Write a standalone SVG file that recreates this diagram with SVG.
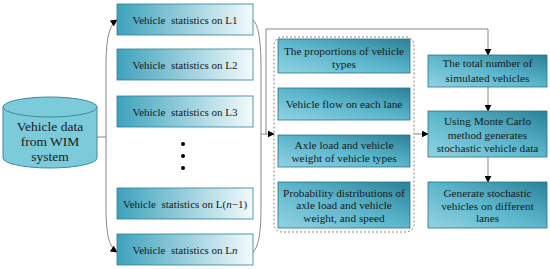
<svg xmlns="http://www.w3.org/2000/svg" width="550" height="269" viewBox="0 0 550 269">
<defs>
<linearGradient id="gL" x1="0" y1="0" x2="1" y2="0">
<stop offset="0" stop-color="#3ea2bc"/><stop offset="1" stop-color="#f3fafc"/>
</linearGradient>
<linearGradient id="gR" x1="0" y1="1" x2="1" y2="0">
<stop offset="0" stop-color="#92d3e2"/><stop offset="0.5" stop-color="#5bb6cc"/><stop offset="1" stop-color="#2a8198"/>
</linearGradient>
<marker id="ah" viewBox="0 0 10 10" refX="9" refY="5" markerWidth="7" markerHeight="7" markerUnits="userSpaceOnUse" orient="auto">
<path d="M0,0 L10,5 L0,10 Z" fill="#000"/>
</marker>
</defs>
<style>
text{fill:#1a1a1a;text-anchor:middle;font-size:11.3px}
.sm{font-size:11px}
.bl{fill:url(#gL);stroke:#2f7f93;stroke-width:0.8}
.br{fill:url(#gR);stroke:#2a7488;stroke-width:0.8}
.cyl{fill:#7ccbdb;stroke:#3d8c9c;stroke-width:1}
.big{font-size:13.5px}
.con{fill:none;stroke:#888;stroke-width:1}
</style>
<rect width="550" height="269" fill="#fff"/>

<g id="connectors">
<path class="con" d="M97,137 H106"/>
<path class="con" d="M106,137 V70 C106,42 108,26 117,20" marker-end="url(#ah)"/>
<path class="con" d="M106,137 V205 C106,232 108,246 117,252" marker-end="url(#ah)"/>
<path class="con" d="M253,20 C259,26 261,42 261,70 V205 C261,232 259,246 253,252"/>
<path class="con" d="M261,134 H274" marker-end="url(#ah)"/>
<path class="con" d="M266,134 V29 H488 V55" marker-end="url(#ah)"/>
<path class="con" d="M414,134 H428" marker-end="url(#ah)"/>
<path class="con" d="M488,87 V111" marker-end="url(#ah)"/>
<path class="con" d="M488,157 V182" marker-end="url(#ah)"/>
<rect x="274" y="37" width="140" height="195" rx="8" fill="none" stroke="#888" stroke-width="1" stroke-dasharray="2,2"/>
</g>

<g font-family="'Liberation Serif', 'Times New Roman', serif">
<g id="wim">
<path class="cyl" d="M3,107 V158 A47,10 0 0 0 97,158 V107"/>
<ellipse class="cyl" cx="50" cy="107" rx="47" ry="10"/>
<text class="big" x="50" y="131">Vehicle data</text>
<text class="big" x="50" y="146">from WIM</text>
<text class="big" x="50" y="161">system</text>
</g>

<g id="L1"><rect class="bl" x="117" y="4" width="136" height="31"/><text class="sm" x="185" y="23.5" xml:space="preserve">Vehicle  statistics on L1</text></g>
<g id="L2"><rect class="bl" x="117" y="49" width="136" height="31"/><text class="sm" x="185" y="68.5" xml:space="preserve">Vehicle  statistics on L2</text></g>
<g id="L3"><rect class="bl" x="117" y="96" width="136" height="31"/><text class="sm" x="185" y="115.5" xml:space="preserve">Vehicle  statistics on L3</text></g>
<g id="dots" fill="#000"><circle cx="183" cy="144" r="2"/><circle cx="183" cy="156" r="2"/><circle cx="183" cy="168" r="2"/></g>
<g id="Ln1"><rect class="bl" x="117" y="188" width="136" height="31"/><text class="sm" x="185" y="207.5" xml:space="preserve">Vehicle  statistics on L(<tspan font-style="italic">n</tspan>−1)</text></g>
<g id="Ln"><rect class="bl" x="117" y="234" width="136" height="31"/><text class="sm" x="185" y="253.5" xml:space="preserve">Vehicle  statistics on L<tspan font-style="italic">n</tspan></text></g>

<g id="m1"><rect class="br" x="278" y="39" width="132" height="34"/><text x="344" y="55">The proportions of vehicle</text><text x="344" y="67.5">types</text></g>
<g id="m2"><rect class="br" x="278" y="88" width="132" height="32"/><text x="344" y="108">Vehicle flow on each lane</text></g>
<g id="m3"><rect class="br" x="278" y="135" width="132" height="32"/><text x="344" y="149">Axle load and vehicle</text><text x="344" y="162">weight of vehicle types</text></g>
<g id="m4"><rect class="br" x="278" y="182" width="132" height="46"/><text x="344" y="197">Probability distributions of</text><text x="344" y="209">axle load and vehicle</text><text x="344" y="221.5">weight, and speed</text></g>

<g id="r1"><rect class="br" x="428" y="55" width="119" height="32"/><text x="487.5" y="67">The total number of</text><text x="487.5" y="81.5">simulated vehicles</text></g>
<g id="r2"><rect class="br" x="428" y="111" width="119" height="46"/><text x="487.5" y="125">Using Monte Carlo</text><text x="487.5" y="138.5">method generates</text><text x="487.5" y="151.5">stochastic vehicle data</text></g>
<g id="r3"><rect class="br" x="428" y="182" width="119" height="46"/><text x="487.5" y="197">Generate stochastic</text><text x="487.5" y="209.5">vehicles on different</text><text x="487.5" y="222">lanes</text></g>
</g>
</svg>
